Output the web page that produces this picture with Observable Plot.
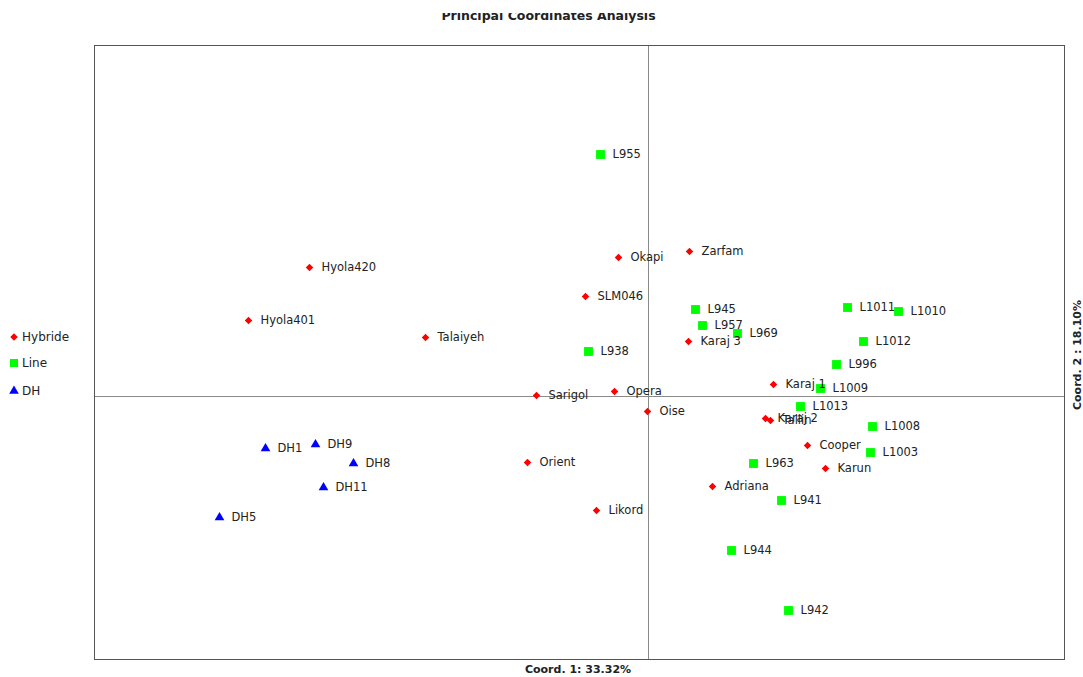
<!DOCTYPE html>
<html>
<head>
<meta charset="utf-8">
<script src="https://cdn.jsdelivr.net/npm/d3@7"></script>
<script src="https://cdn.jsdelivr.net/npm/@observablehq/plot@0.6"></script>
<style>
  html, body { margin: 0; padding: 0; background: #fff; }
  #wrap { position: relative; width: 1083px; height: 677px; overflow: hidden; font-family: "DejaVu Sans", Verdana, sans-serif; }
  #chart { position: absolute; left: 0; top: 0; }
  .title { position: absolute; left: 0; width: 1097px; top: 5px; text-align: center; font-weight: bold; font-size: 12.5px; line-height: 22px; color: #222; clip-path: inset(8px 0 0 0); }
  .xlab { position: absolute; left: 478px; width: 200px; top: 663px; text-align: center; font-weight: bold; font-size: 11px; color: #222; }
  .ylab { position: absolute; left: 1077px; top: 355px; transform: translate(-50%, -50%) rotate(-90deg); white-space: nowrap; font-weight: bold; font-size: 11px; color: #222; }
  #legend { position: absolute; left: 0; top: 0; }
</style>
</head>
<body>
<div id="wrap">
  <div id="chart"></div>
  <div class="title">Principal Coordinates Analysis</div>
  <div class="xlab">Coord. 1: 33.32%</div>
  <div class="ylab">Coord. 2 : 18.10%</div>
  <svg id="legend" width="94" height="420"></svg>
</div>
<script>
// Group names
const groups = ["Hybride", "Line", "DH"];

// Hybride (red diamonds)
const hybNames = ["Zarfam","Okapi","Hyola420","SLM046","Hyola401","Talaiyeh","Karaj 3","Karaj 1","Opera","Sarigol","Oise","Karaj 2","Tallin","Cooper","Orient","Karun","Adriana","Likord"];
const hybX = [0.041,-0.030,-0.339,-0.063,-0.400,-0.223,0.040,0.125,-0.034,-0.112,-0.001,0.117,0.122,0.159,-0.121,0.177,0.064,-0.052];
const hybY = [0.145,0.139,0.129,0.100,0.076,0.059,0.055,0.012,0.005,0.001,-0.015,-0.022,-0.024,-0.049,-0.066,-0.072,-0.090,-0.114];

// Line (green squares)
const lineNames = ["L955","L945","L1011","L1010","L957","L969","L1012","L938","L996","L1009","L1013","L1008","L1003","L963","L941","L944","L942"];
const lineX = [-0.048,0.047,0.199,0.250,0.054,0.089,0.215,-0.060,0.188,0.172,0.152,0.224,0.222,0.105,0.133,0.083,0.140];
const lineY = [0.242,0.087,0.089,0.085,0.071,0.063,0.055,0.045,0.032,0.008,-0.010,-0.030,-0.056,-0.067,-0.104,-0.154,-0.214];

// DH (blue triangles)
const dhNames = ["DH9","DH1","DH8","DH11","DH5"];
const dhX = [-0.333,-0.383,-0.295,-0.325,-0.429];
const dhY = [-0.048,-0.052,-0.067,-0.091,-0.121];

const mk = (names, xs, ys, g) => names.map((n, i) => ({name: n, x: xs[i], y: ys[i], group: g}));
const hyb = mk(hybNames, hybX, hybY, groups[0]);
const line = mk(lineNames, lineX, lineY, groups[1]);
const dh = mk(dhNames, dhX, dhY, groups[2]);
const all = [...hyb, ...line, ...dh];

const colors = {Hybride: "#ff0000", Line: "#00ff00", DH: "#0000ff"};

const chart = Plot.plot({
  width: 1083,
  height: 677,
  marginLeft: 94,
  marginRight: 19,
  marginTop: 45,
  marginBottom: 18,
  x: {domain: [-0.554, 0.416], axis: null},
  y: {domain: [-0.263, 0.351], axis: null},
  style: {fontFamily: "DejaVu Sans, Verdana, sans-serif", background: "transparent"},
  marks: [
    Plot.ruleX([0], {stroke: "#8a8a8a", strokeWidth: 1}),
    Plot.ruleY([0], {stroke: "#8a8a8a", strokeWidth: 1}),
    Plot.frame({stroke: "#555", strokeWidth: 1}),
    Plot.dot(line, {x: "x", y: "y", symbol: "square", r: 5, fill: colors.Line, stroke: "none"}),
    Plot.dot(hyb, {x: "x", y: "y", symbol: "diamond2", r: 3.4, fill: colors.Hybride, stroke: "none"}),
    Plot.dot(dh, {x: "x", y: "y", symbol: "triangle", r: 3.6, fill: colors.DH, stroke: "none"}),
    Plot.text(all, {x: "x", y: "y", text: "name", dx: 12, textAnchor: "start", fontSize: 11.5, fill: "#222"})
  ]
});
document.getElementById("chart").appendChild(chart);

// Legend built from the groups array
const legend = d3.select("#legend");
const sym = {Hybride: d3.symbolDiamond2, Line: d3.symbolSquare, DH: d3.symbolTriangle};
const symSize = {Hybride: 36, Line: 64, DH: 40};
const legY = [337, 363, 391];
groups.forEach((g, i) => {
  legend.append("path")
    .attr("d", d3.symbol(sym[g], symSize[g])())
    .attr("transform", `translate(14,${legY[i]})`)
    .attr("fill", colors[g]);
  legend.append("text")
    .attr("x", 22).attr("y", legY[i]).attr("dy", "0.35em")
    .attr("font-size", 12).attr("fill", "#222")
    .attr("font-family", "DejaVu Sans, Verdana, sans-serif")
    .text(g);
});
</script>
</body>
</html>
